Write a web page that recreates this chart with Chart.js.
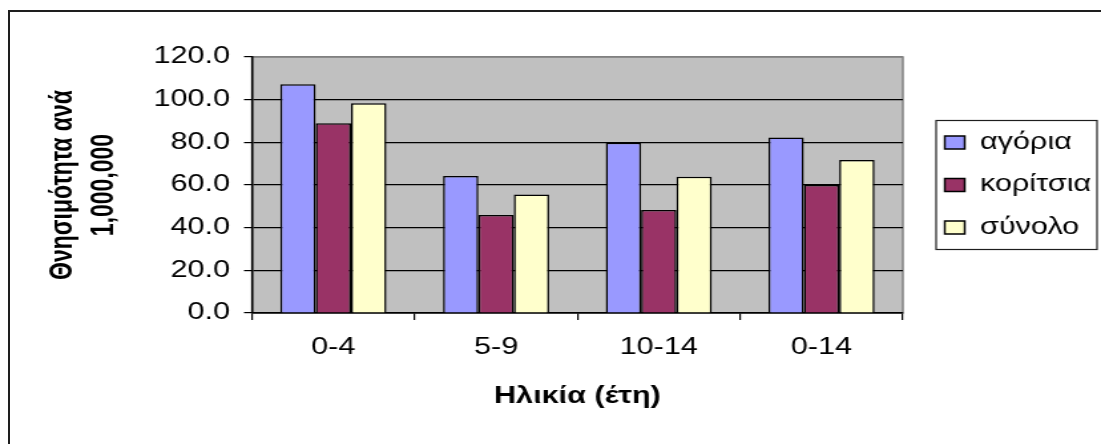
<!DOCTYPE html>
<html>
<head>
<meta charset="utf-8">
<script src="https://cdn.jsdelivr.net/npm/chart.js@4.4.0/dist/chart.umd.min.js"></script>
<style>
  html, body { margin: 0; padding: 0; background: #fff; }
  body { width: 1101px; height: 444px; overflow: hidden; position: relative; }
  /* outer frame of the chart object, cut off at right and bottom */
  #frame { position: absolute; left: 8px; top: 10px; width: 1200px; height: 500px;
           border-left: 2px solid #1e1e1e; border-top: 2px solid #1e1e1e; }
  /* the chart is laid out narrow and stretched sideways */
  #wrap { position: absolute; left: 0; top: 0; width: 828px; height: 444px;
          transform: scaleX(1.3297); transform-origin: 0 0; }
</style>
</head>
<body>
<div id="frame"></div>
<div id="wrap"><canvas id="mortality" width="828" height="444"></canvas></div>
<script>
const ageGroups = ['0-4', '5-9', '10-14', '0-14'];
const boys  = [107.2, 64.2, 79.8, 82.3];
const girls = [88.9, 45.9, 48.3, 60.0];
const total = [98.3, 55.6, 63.9, 71.7];
const yTicks = [0, 20, 40, 60, 80, 100, 120];

const FONT = "'Liberation Sans', Arial, sans-serif";

// grey plot area, framed legend
const excelLook = {
  id: 'excelLook',
  afterLayout(chart) {
    chart.legend.left += 12;
    chart.legend.right += 12;
  },
  beforeDraw(chart) {
    const { ctx, chartArea: a } = chart;
    ctx.save();
    ctx.fillStyle = '#c0c0c0';
    ctx.fillRect(a.left, a.top, a.width, a.height);
    ctx.strokeStyle = '#808080';
    ctx.lineWidth = 1.5;
    ctx.strokeRect(a.left, a.top, a.width, a.height);
    ctx.restore();
  },
  afterDraw(chart) {
    const lg = chart.legend;
    const mid = (lg.top + lg.bottom) / 2;
    const ctx = chart.ctx;
    ctx.save();
    ctx.strokeStyle = '#1e1e1e';
    ctx.lineWidth = 1.2;
    ctx.strokeRect(lg.left + 13, mid - 64.5, lg.right - lg.left - 13, 129);
    ctx.restore();
  }
};

new Chart(document.getElementById('mortality'), {
  type: 'bar',
  data: {
    labels: ageGroups,
    datasets: [
      { label: 'αγόρια',   data: boys,  backgroundColor: '#9999ff' },
      { label: 'κορίτσια', data: girls, backgroundColor: '#993366' },
      { label: 'σύνολο',   data: total, backgroundColor: '#ffffcc' }
    ]
  },
  options: {
    responsive: false,
    animation: false,
    devicePixelRatio: 1,
    layout: { padding: { left: 0, top: 57, right: 15, bottom: 0 } },
    datasets: {
      bar: {
        borderColor: '#000',
        borderWidth: 1.5,
        categoryPercentage: 0.652,
        barPercentage: 1.0
      }
    },
    scales: {
      x: {
        afterFit: s => { s.height = 131; },
        grid: { drawOnChartArea: false, tickLength: 7, tickColor: '#000', lineWidth: 1.2 },
        border: { color: '#000', width: 1.5 },
        ticks: { color: '#000', padding: 13.7, font: { family: FONT, size: 23 } },
        title: {
          display: true,
          text: 'Ηλικία (έτη)',
          color: '#000',
          padding: { top: 0, bottom: 33.2 },
          font: { family: FONT, size: 23, weight: 'bold' }
        }
      },
      y: {
        min: 0,
        max: 120,
        afterFit: s => { s.width = 189.5; },
        afterBuildTicks: s => { s.ticks = yTicks.map(v => ({ value: v })); },
        grid: {
          color: c => (c.tick && c.tick.value === 120 ? '#808080' : '#000'),
          tickColor: '#000',
          tickLength: 6,
          lineWidth: 1.2
        },
        border: { color: '#000', width: 1.5 },
        ticks: {
          color: '#000',
          padding: 10.5,
          font: { family: FONT, size: 23 },
          callback: v => Number(v).toFixed(1)
        },
        title: {
          display: true,
          text: ['Θνησιμότητα ανά', '1,000,000'],
          color: '#000',
          padding: { top: 31.6, bottom: 0 },
          font: { family: FONT, size: 23, weight: 'bold', lineHeight: 1.375 }
        }
      }
    },
    plugins: {
      tooltip: { enabled: false },
      legend: {
        position: 'right',
        fullSize: false,
        maxWidth: 134,
        labels: {
          color: '#000',
          boxWidth: 15,
          boxHeight: 13,
          padding: 19.5,
          font: { family: FONT, size: 23 }
        }
      }
    }
  },
  plugins: [excelLook]
});
</script>
</body>
</html>
